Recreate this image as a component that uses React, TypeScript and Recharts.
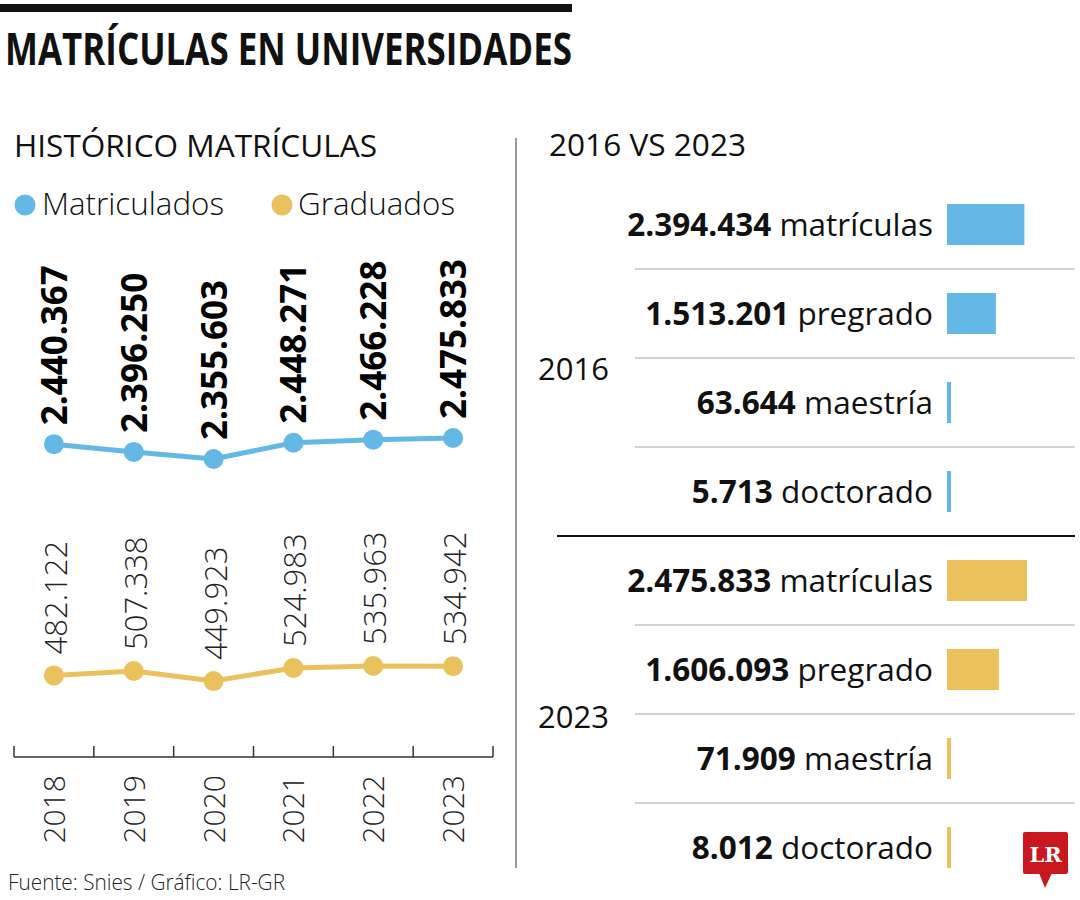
import React from "react";
import { LineChart, Line, XAxis, YAxis, LabelList, BarChart, Bar, Cell } from "recharts";

// Histórico (left panel)
const years = ["2018", "2019", "2020", "2021", "2022", "2023"];
const matriculados = [2440367, 2396250, 2355603, 2448271, 2466228, 2475833];
const graduados = [482122, 507338, 449923, 524983, 535963, 534942];

// 2016 vs 2023 (right panel)
const compareYears = ["2016", "2016", "2016", "2016", "2023", "2023", "2023", "2023"];
const compareLevels = ["matrículas", "pregrado", "maestría", "doctorado", "matrículas", "pregrado", "maestría", "doctorado"];
const compareValues = [2394434, 1513201, 63644, 5713, 2475833, 1606093, 71909, 8012];

const BLUE = "#63b8e6";
const YELLOW = "#ebc15e";
const FONT = "'Open Sans', 'Noto Sans', sans-serif";

const fmt = (n: number) => String(n).replace(/\B(?=(\d{3})+(?!\d))/g, ".");

const lineData = years.map((year, i) => ({ year, matriculados: matriculados[i], graduados: graduados[i] }));
const barData = compareValues.map((value, i) => ({
  key: `${compareYears[i]} ${compareLevels[i]}`,
  group: compareYears[i],
  level: compareLevels[i],
  value,
}));

// bar chart placement
const BAR_LEFT = 530;
const BAR_TOP = 180;
const ROW_H = 89;

const pointOf = (props: any) => ({
  x: props.x ?? props.viewBox?.x,
  y: props.y ?? props.viewBox?.y,
});

const BlueLabel = (props: any) => {
  const { x, y } = pointOf(props);
  return (
    <text transform={`translate(${x + 13},${y - 19}) rotate(-90)`} fontFamily={FONT} fontWeight={700} fontSize={35} fill="#000">
      {fmt(props.value)}
    </text>
  );
};

const YellowLabel = (props: any) => {
  const { x, y } = pointOf(props);
  return (
    <text transform={`translate(${x + 13},${y - 21}) rotate(-90)`} fontFamily={FONT} fontWeight={300} fontSize={31} fill="#222">
      {fmt(props.value)}
    </text>
  );
};

// year label plus the tick marks on the band edges (ticks point up into the plot)
const YearTick = (props: any) => {
  const { x, y, payload, index, width, visibleTicksCount } = props;
  const band = width / (visibleTicksCount || years.length);
  const left = x - band / 2;
  const right = x + band / 2;
  return (
    <g>
      <line x1={left} x2={left} y1={y} y2={y - 11} stroke="#333" strokeWidth={1.5} />
      {index === years.length - 1 ? <line x1={right} x2={right} y1={y} y2={y - 11} stroke="#333" strokeWidth={1.5} /> : null}
      <text transform={`translate(${x + 11},${y + 18}) rotate(-90)`} textAnchor="end" fontFamily={FONT} fontWeight={300} fontSize={30} fill="#222">
        {payload.value}
      </text>
    </g>
  );
};

const RowTick = (props: any) => {
  const { x, y, index } = props;
  return (
    <text x={x} y={y} dy="0.36em" textAnchor="end" fontFamily={FONT} fontSize={31.5} fill="#111">
      <tspan fontWeight={700}>{fmt(compareValues[index])}</tspan>
      <tspan fontWeight={400}> {compareLevels[index]}</tspan>
    </text>
  );
};

function Decor() {
  const seps = [1, 2, 3, 4, 5, 6, 7];
  return (
    <svg width={1080} height={900} style={{ position: "absolute", left: 0, top: 0 }}>
      <rect x={0} y={4} width={572} height={8} fill="#111" />
      <text x={5} y={65} fontFamily={FONT} fontWeight={700} fontSize={44} textLength={567} lengthAdjust="spacingAndGlyphs" fill="#111">
        MATRÍCULAS EN UNIVERSIDADES
      </text>
      <text x={14} y={157} fontFamily={FONT} fontSize={31} textLength={363} lengthAdjust="spacingAndGlyphs" fill="#111">
        HISTÓRICO MATRÍCULAS
      </text>
      <text x={549} y={156} fontFamily={FONT} fontSize={31} textLength={197} lengthAdjust="spacingAndGlyphs" fill="#111">
        2016 VS 2023
      </text>
      <circle cx={25} cy={205} r={10.5} fill={BLUE} />
      <text x={42} y={215} fontFamily={FONT} fontWeight={300} fontSize={31} textLength={182} lengthAdjust="spacingAndGlyphs" fill="#111">
        Matriculados
      </text>
      <circle cx={282} cy={205} r={10.5} fill={YELLOW} />
      <text x={298} y={215} fontFamily={FONT} fontWeight={300} fontSize={31} textLength={157} lengthAdjust="spacingAndGlyphs" fill="#111">
        Graduados
      </text>
      <line x1={516} y1={138} x2={516} y2={868} stroke="#9a9a9a" strokeWidth={2} />
      {seps.map((k) => (
        <line
          key={k}
          x1={k === 4 ? 557 : 635}
          x2={1075}
          y1={BAR_TOP + k * ROW_H}
          y2={BAR_TOP + k * ROW_H}
          stroke={k === 4 ? "#111" : "#c4c4c4"}
          strokeWidth={k === 4 ? 2 : 1.5}
        />
      ))}
      <text x={538} y={380} fontFamily={FONT} fontSize={31} fill="#111">2016</text>
      <text x={538} y={728} fontFamily={FONT} fontSize={31} fill="#111">2023</text>
      <text x={8} y={890} fontFamily={FONT} fontWeight={300} fontSize={22} textLength={277} lengthAdjust="spacingAndGlyphs" fill="#222">
        Fuente: Snies / Gráfico: LR-GR
      </text>
      <rect x={1023} y={832} width={45} height={42} rx={2} fill="#c8171e" />
      <polygon points="1039,873 1052,873 1045,888" fill="#c8171e" />
      <text x={1045.5} y={862} textAnchor="middle" fontFamily="'DejaVu Serif', serif" fontWeight={700} fontSize={21} fill="#fff">
        LR
      </text>
    </svg>
  );
}

export default function App() {
  return (
    <div style={{ position: "absolute", left: 0, top: 0, width: 1080, height: 900, background: "#fff", overflow: "hidden" }}>
      <Decor />
      <div style={{ position: "absolute", left: 0, top: 0 }}>
        <LineChart width={510} height={880} data={lineData} margin={{ top: 240, right: 17, bottom: 23, left: 14 }}>
          <XAxis
            dataKey="year"
            scale="band"
            height={100}
            axisLine={{ stroke: "#333", strokeWidth: 1.5 }}
            tickLine={false}
            tickSize={0}
            tickMargin={0}
            interval={0}
            tick={<YearTick />}
          />
          <YAxis yAxisId="m" hide domain={[653000, 3607000]} allowDataOverflow />
          <YAxis yAxisId="g" hide domain={[16000, 2970000]} allowDataOverflow />
          <Line
            yAxisId="m"
            dataKey="matriculados"
            stroke={BLUE}
            strokeWidth={5}
            dot={{ r: 10, fill: BLUE, stroke: "none" }}
            isAnimationActive={false}
          >
            <LabelList dataKey="matriculados" content={<BlueLabel />} />
          </Line>
          <Line
            yAxisId="g"
            dataKey="graduados"
            stroke={YELLOW}
            strokeWidth={5}
            dot={{ r: 10, fill: YELLOW, stroke: "none" }}
            isAnimationActive={false}
          >
            <LabelList dataKey="graduados" content={<YellowLabel />} />
          </Line>
        </LineChart>
      </div>
      <div style={{ position: "absolute", left: BAR_LEFT, top: BAR_TOP }}>
        <BarChart
          layout="vertical"
          width={550}
          height={ROW_H * 8}
          data={barData}
          margin={{ top: 0, right: 5, bottom: 0, left: 0 }}
          barSize={41}
        >
          <XAxis type="number" hide domain={[0, 3960000]} allowDataOverflow />
          <YAxis
            type="category"
            dataKey="key"
            width={417}
            axisLine={false}
            tickLine={false}
            tickSize={0}
            tickMargin={14}
            interval={0}
            tick={<RowTick />}
          />
          <Bar dataKey="value" minPointSize={4} isAnimationActive={false}>
            {barData.map((d, i) => (
              <Cell key={i} fill={d.group === "2016" ? BLUE : YELLOW} />
            ))}
          </Bar>
        </BarChart>
      </div>
    </div>
  );
}
